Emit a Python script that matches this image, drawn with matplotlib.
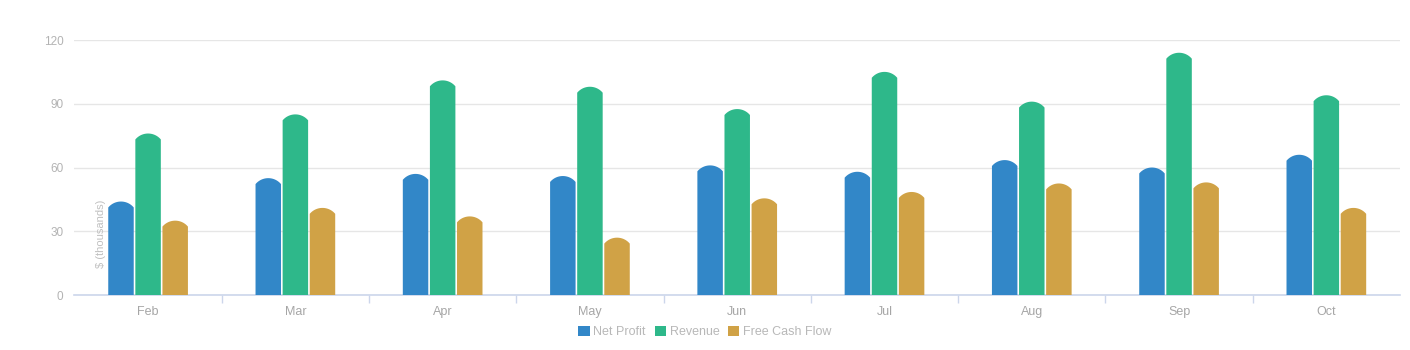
import numpy as np
import matplotlib
matplotlib.use("Agg")
import matplotlib.pyplot as plt
from matplotlib.path import Path
from matplotlib.patches import PathPatch, Patch

plt.rcParams['font.family'] = ['Liberation Sans', 'DejaVu Sans']

months = ["Feb", "Mar", "Apr", "May", "Jun", "Jul", "Aug", "Sep", "Oct"]
net_profit = [44, 55, 57, 56, 61, 58, 63.5, 60, 66]
revenue = [76, 85, 101, 98, 87.5, 105, 91, 114, 94]
free_cash_flow = [35, 41, 37, 27, 45.5, 48.5, 52.5, 53, 41]
series_names = ["Net Profit", "Revenue", "Free Cash Flow"]
colors = ["#3287c8", "#2eb88a", "#d0a246"]

fig = plt.figure(figsize=(14.1, 3.5), dpi=100)
ax = fig.add_axes([0.0528, 0.157, 0.9401, 0.7287])

x = np.arange(len(months))
step = 0.184
width = 0.173
cap = 2.8  # dome height in data units

# circular segment for the rounded bar tops
half = np.radians(51)
th = np.linspace(-half, half, 30)
arc_x = np.sin(th) / np.sin(half)
arc_y = (np.cos(th) - np.cos(half)) / (1 - np.cos(half))


def dome_bar(ax, xc, v, color):
    x0, x1 = xc - width / 2, xc + width / 2
    ys = v - cap
    verts = [(x0, 0), (x0, ys)]
    verts += list(zip(xc + arc_x * width / 2, ys + arc_y * cap))
    verts += [(x1, ys), (x1, 0), (x0, 0)]
    codes = [Path.MOVETO] + [Path.LINETO] * (len(verts) - 2) + [Path.CLOSEPOLY]
    ax.add_patch(PathPatch(Path(verts, codes), facecolor=color,
                           edgecolor="none", zorder=3))


for i, vals in enumerate([net_profit, revenue, free_cash_flow]):
    for xi, v in zip(x, vals):
        dome_bar(ax, xi + (i - 1) * step, v, colors[i])

ax.set_xlim(-0.5, len(months) - 0.5)
ax.set_ylim(0, 120)
ax.set_yticks([0, 30, 60, 90, 120])
ax.grid(axis="y", color="#e6e6e6", lw=1, zorder=0)
ax.set_axisbelow(True)

ax.set_xticks(x)
ax.set_xticklabels(months, color="#a6a6a6", fontsize=9)
# separators between categories only (none at the ends)
ax.set_xticks(np.arange(1, len(months)) - 0.5, minor=True)
ax.tick_params(axis="x", which="major", length=0, pad=8)
ax.tick_params(axis="x", which="minor", length=6, color="#ccd6eb", width=1)
ax.tick_params(axis="y", length=0, labelcolor="#b3b3b3", labelsize=8.5, pad=8)

for s in ["top", "right", "left"]:
    ax.spines[s].set_visible(False)
ax.spines["bottom"].set_color("#ccd6eb")
ax.spines["bottom"].set_linewidth(1.2)

fig.text(101 / 1410, (350 - 234) / 350, "$ (thousands)", rotation=90,
         ha="center", va="center", color="#c0c0c0", fontsize=8)

handles = [Patch(facecolor=c, edgecolor="none") for c in colors]
fig.legend(handles, series_names, loc="center", bbox_to_anchor=(0.5, 18 / 350),
           ncol=3, frameon=False, fontsize=9, labelcolor="#b8b8b8",
           handlelength=0.9, handleheight=0.9, handletextpad=0.3,
           columnspacing=0.7)

fig.savefig("out.png", dpi=100)
